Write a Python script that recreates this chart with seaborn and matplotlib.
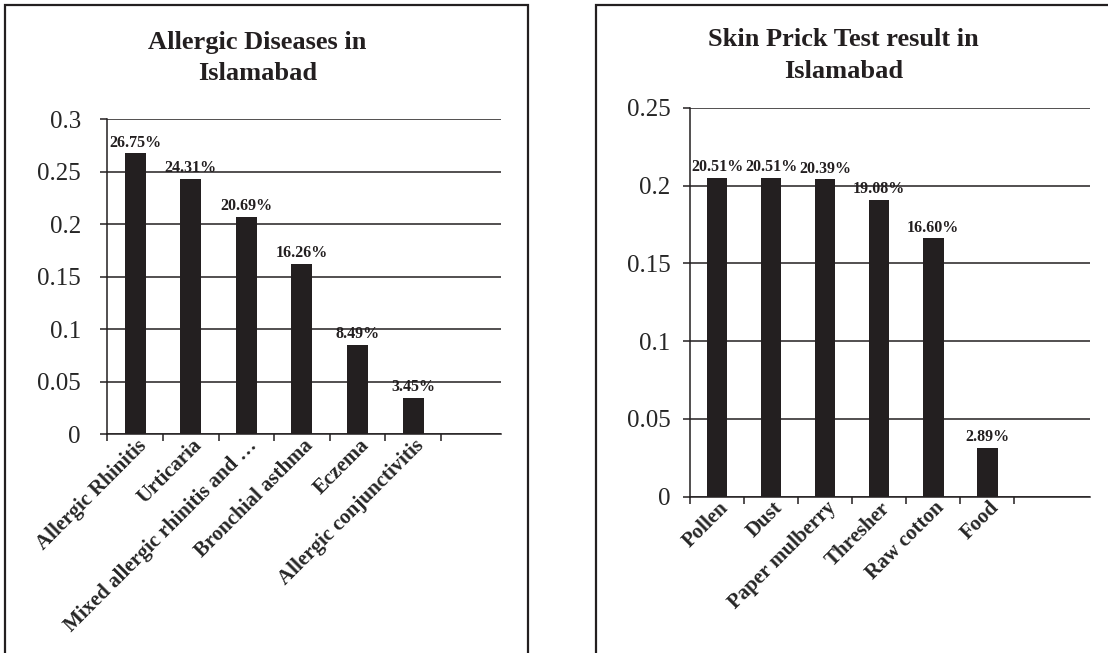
import numpy as np
import matplotlib
matplotlib.use('Agg')
import matplotlib.pyplot as plt
import matplotlib.transforms as mtrans
from matplotlib.patches import Rectangle
import seaborn as sns

# data
disease_names = ['Allergic Rhinitis', 'Urticaria', 'Mixed allergic rhinitis and \u2026',
                 'Bronchial asthma', 'Eczema', 'Allergic conjunctivitis']
disease_vals = [0.2675, 0.2431, 0.2069, 0.1626, 0.0849, 0.0345]
disease_labels = ['26.75%', '24.31%', '20.69%', '16.26%', '8.49%', '3.45%']
disease_yticks = [0, 0.05, 0.1, 0.15, 0.2, 0.25, 0.3]

spt_names = ['Pollen', 'Dust', 'Paper mulberry', 'Thresher', 'Raw cotton', 'Food']
spt_vals = [0.2051, 0.2051, 0.2039, 0.1908, 0.1660, 0.0315]
spt_labels = ['20.51%', '20.51%', '20.39%', '19.08%', '16.60%', '2.89%']
spt_yticks = [0, 0.05, 0.1, 0.15, 0.2, 0.25]

INK = '#231f20'

sns.set_style('white')
plt.rcParams['font.family'] = ['Liberation Serif', 'DejaVu Serif']


def draw_panel(fig, rect, names, vals, labels, yticks, xmax, ypad):
    ax = fig.add_axes(rect)
    sns.barplot(x=names, y=vals, color=INK, saturation=1, width=0.38,
                linewidth=0, ax=ax, zorder=3)
    ax.set_xlim(-0.5, xmax)
    ax.set_ylim(0, yticks[-1])
    ax.set_yticks(yticks)
    ax.set_yticklabels(['%g' % t for t in yticks], fontsize=18)
    ax.grid(axis='y', color=INK, linewidth=1.1, zorder=0)
    ax.grid(axis='x', visible=False)
    for s in ['top', 'right']:
        ax.spines[s].set_visible(False)
    for s in ['left', 'bottom']:
        ax.spines[s].set_color(INK)
        ax.spines[s].set_linewidth(1.1)
        ax.spines[s].set_zorder(4)
    ax.tick_params(axis='y', which='major', direction='out', length=5,
                   width=1.1, color=INK, left=True, pad=ypad)
    # category boundaries carry the tick marks, names sit at the centres
    ax.set_xticks(np.arange(-0.5, len(names), 1))
    ax.set_xticklabels([])
    ax.set_xticks(range(len(names)), minor=True)
    ax.set_xticklabels(names, minor=True, rotation=45, fontsize=15,
                       fontweight='bold', ha='right', va='center',
                       rotation_mode='anchor')
    ax.tick_params(axis='x', which='major', direction='out', length=5,
                   width=1.1, color=INK, bottom=True)
    ax.tick_params(axis='x', which='minor', length=0, pad=6)
    off = mtrans.ScaledTranslation(6 / 72, 0, fig.dpi_scale_trans)
    for t in ax.get_xticklabels(minor=True):
        t.set_transform(t.get_transform() + off)
    ax.set_xlabel('')
    ax.bar_label(ax.containers[0], labels=labels, padding=2, fontsize=11.5,
                 fontweight='bold', color=INK)
    return ax


fig = plt.figure(figsize=(11.08, 6.53), dpi=100)

draw_panel(fig, [107.3 / 1108, 1 - 434.3 / 653, 393.7 / 1108, 315 / 653],
           disease_names, disease_vals, disease_labels, disease_yticks, 6.58, 14)
draw_panel(fig, [690 / 1108, 1 - 496.7 / 653, 400 / 1108, 389 / 653],
           spt_names, spt_vals, spt_labels, spt_yticks, 6.9, 9)

fig.text(257.5 / 1108, 1 - 31 / 653, 'Allergic Diseases in\nIslamabad',
         ha='center', va='top', fontsize=19, fontweight='bold',
         linespacing=1.45, color=INK)
fig.text(843.5 / 1108, 1 - 28.5 / 653, 'Skin Prick Test result in\nIslamabad',
         ha='center', va='top', fontsize=19, fontweight='bold',
         linespacing=1.45, color=INK)

# chart frames, cut off at the bottom / right like the source
fig.add_artist(Rectangle((5 / 1108, -0.05), 523 / 1108, 1.05 - 5 / 653,
                         transform=fig.transFigure, fill=False,
                         edgecolor=INK, linewidth=1.6))
fig.add_artist(Rectangle((596 / 1108, -0.05), 0.6, 1.05 - 5 / 653,
                         transform=fig.transFigure, fill=False,
                         edgecolor=INK, linewidth=1.6))

fig.savefig('out.png', dpi=100)
